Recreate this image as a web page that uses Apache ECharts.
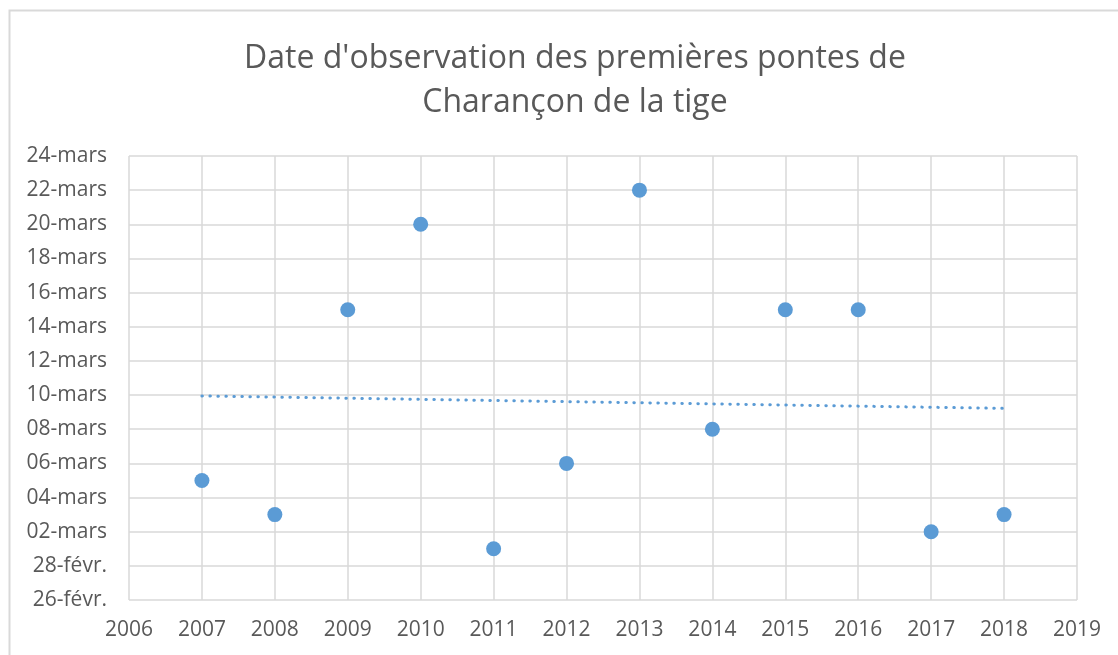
<!DOCTYPE html>
<html>
<head>
<meta charset="utf-8">
<script src="https://cdn.jsdelivr.net/npm/echarts@6/dist/echarts.min.js"></script>
<style>
  html, body { margin: 0; padding: 0; background: #fff; }
  #chart { width: 1118px; height: 655px; }
</style>
</head>
<body>
<div id="chart"></div>
<script>
// jours comptés depuis le 28 février (0 = 28-févr., 1 = 01-mars)
var years = [2007, 2008, 2009, 2010, 2011, 2012, 2013, 2014, 2015, 2016, 2017, 2018]
var ponteDays = [5, 3, 15, 20, 1, 6, 22, 8, 15, 15, 2, 3]

// courbe de tendance (linéaire)
var trendYears = [2007, 2018]
var trendDays = [9.95, 9.22]

var yTickLabels = ['26-févr.', '28-févr.', '02-mars', '04-mars', '06-mars', '08-mars', '10-mars',
  '12-mars', '14-mars', '16-mars', '18-mars', '20-mars', '22-mars', '24-mars']
var yMin = -2, yMax = 24, yStep = 2

var myChart = echarts.init(document.getElementById('chart'))
var txt = '#595959'
var blue = '#5B9BD5'
var font = 'Open Sans'

var points = years.map(function (y, i) { return [y, ponteDays[i]] })
var trend = trendYears.map(function (y, i) { return [y, trendDays[i]] })

myChart.setOption({
  animation: false,
  graphic: [{
    type: 'rect',
    shape: { x: 9.5, y: 10.5, width: 1130, height: 670 },
    style: { fill: 'none', stroke: '#d9d9d9', lineWidth: 2 },
    silent: true
  }],
  title: {
    text: "Date d'observation des premières pontes de\nCharançon de la tige",
    left: 570,
    textAlign: 'center',
    top: 32,
    textStyle: { fontFamily: font, fontSize: 32, fontWeight: 'normal', color: txt, lineHeight: 44 }
  },
  grid: { left: 129, right: 41, top: 156, bottom: 55 },
  xAxis: {
    type: 'value',
    min: 2006, max: 2019, interval: 1,
    axisLine: { show: false },
    axisTick: { show: false },
    axisLabel: {
      color: txt, fontFamily: font, fontSize: 21, margin: 20,
      formatter: function (v) { return String(v) }
    },
    splitLine: { show: true, lineStyle: { color: '#d9d9d9', width: 1.5 } }
  },
  yAxis: {
    type: 'value',
    min: yMin, max: yMax, interval: yStep,
    axisLine: { show: false },
    axisTick: { show: false },
    axisLabel: {
      color: txt, fontFamily: font, fontSize: 21, margin: 22,
      formatter: function (v) { return yTickLabels[Math.round((v - yMin) / yStep)] }
    },
    splitLine: { show: true, lineStyle: { color: '#d9d9d9', width: 1.5 } }
  },
  series: [{
    type: 'line',
    data: trend,
    showSymbol: false,
    silent: true,
    lineStyle: { color: blue, width: 3, type: [0.5, 7.5], cap: 'round' },
    z: 3
  }, {
    type: 'scatter',
    data: points,
    symbolSize: 15,
    itemStyle: { color: blue, opacity: 1 },
    z: 4
  }]
})
</script>
</body>
</html>
